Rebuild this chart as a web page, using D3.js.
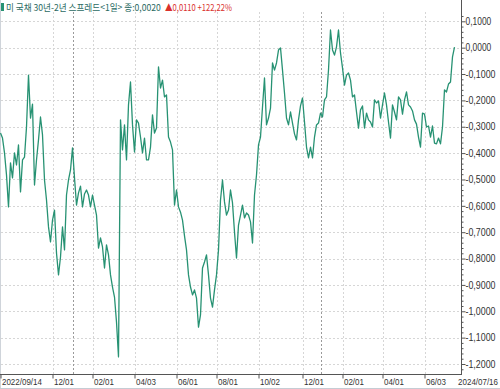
<!DOCTYPE html>
<html><head><meta charset="utf-8">
<script src="https://cdn.jsdelivr.net/npm/d3@7"></script>
<style>body{margin:0;background:#fff;} svg{display:block;}</style>
</head><body><svg id="chart" width="500" height="389"></svg>
<script>
const seriesName = "미 국채 30년-2년 스프레드<1일>";
const closeLabel = "종:0,0020";
const changeLabel = "▲0,0110";
const pctLabel = "+122,22%";
const spreadValues = [
-0.324,-0.343,-0.399,-0.483,-0.604,-0.437,-0.494,-0.399,-0.445,-0.369,
-0.547,-0.426,-0.415,-0.301,-0.104,-0.267,-0.214,-0.521,-0.426,-0.350,
-0.263,-0.331,-0.502,-0.578,-0.680,-0.737,-0.654,-0.616,-0.779,-0.862,
-0.794,-0.680,-0.767,-0.559,-0.502,-0.464,-0.380,-0.494,-0.597,-0.551,
-0.525,-0.604,-0.555,-0.540,-0.559,-0.604,-0.559,-0.597,-0.635,-0.760,
-0.722,-0.756,-0.836,-0.748,-0.786,-0.862,-0.908,-0.946,-1.041,-1.173,
-0.274,-0.388,-0.293,-0.426,-0.217,-0.130,-0.293,-0.396,-0.274,-0.286,
-0.339,-0.399,-0.343,-0.426,-0.426,-0.377,-0.255,-0.324,-0.305,-0.073,
-0.153,-0.123,-0.187,-0.179,-0.339,-0.358,-0.388,-0.597,-0.540,-0.604,
-0.624,-0.654,-0.714,-0.767,-0.862,-0.908,-0.938,-0.919,-0.950,-1.060,
-1.014,-0.836,-0.813,-0.786,-0.862,-0.950,-0.984,-0.919,-0.862,-0.767,
-0.578,-0.502,-0.585,-0.635,-0.616,-0.540,-0.589,-0.699,-0.798,-0.673,
-0.635,-0.597,-0.646,-0.627,-0.635,-0.661,-0.741,-0.559,-0.483,-0.369,
-0.339,-0.225,-0.115,-0.293,-0.267,-0.229,-0.058,-0.085,-0.058,-0.009,
-0.001,-0.085,-0.172,-0.267,-0.293,-0.244,-0.286,-0.327,-0.350,-0.274,
-0.221,-0.191,-0.282,-0.377,-0.418,-0.377,-0.418,-0.339,-0.293,-0.286,
-0.248,-0.263,-0.198,-0.187,-0.085,0.067,-0.009,-0.028,0.003,0.067,
-0.020,-0.077,-0.142,-0.104,-0.096,-0.123,-0.187,-0.179,-0.244,-0.305,
-0.236,-0.221,-0.305,-0.248,-0.274,-0.282,-0.301,-0.198,-0.210,-0.202,
-0.267,-0.217,-0.172,-0.217,-0.282,-0.343,-0.217,-0.244,-0.274,-0.187,
-0.198,-0.252,-0.198,-0.168,-0.217,-0.225,-0.240,-0.274,-0.290,-0.339,
-0.377,-0.248,-0.252,-0.301,-0.297,-0.339,-0.297,-0.362,-0.365,-0.343,
-0.365,-0.301,-0.160,-0.168,-0.138,-0.130,-0.035,0.002
];
const xTickLabels = ["2022/09/14","12/01","02/01","04/03","06/01","08/01","10/02","12/01","02/01","04/01","06/03"];
const xTickIndex = [0,26,46,67,88,108,129,151,171,191,212];
const yearBreakIndex = [36,160];
const lastDateLabel = "2024/07/16";
const yTicks = [0.1,0,-0.1,-0.2,-0.3,-0.4,-0.5,-0.6,-0.7,-0.8,-0.9,-1.0,-1.1,-1.2];

const W = 500, H = 389;
const axisX = 461, axisY = 374;
const lineColor = "#279273";
const gridColor = "#d6d6d6";
const axisColor = "#555";
const font = "'Liberation Sans','DejaVu Sans',Arial,sans-serif";

const svg = d3.select("#chart");
const loc = d3.formatLocale({decimal:",", thousands:".", grouping:[3], currency:["",""], minus:"-"});
const fmt = loc.format(".4f");

const x = d3.scaleLinear().domain([0, spreadValues.length - 1]).range([0.5, 454.5]);
const y = d3.scaleLinear().domain([0.1, -1.2]).range([21.3, 364]);

// horizontally condense a text so its width equals the target, keeping glyph height
function squeeze(sel, widthFn) {
  sel.each(function() {
    const target = widthFn(this.textContent);
    const w = this.getComputedTextLength();
    if (!(w > 0)) return;
    const s = Math.min(1, target / w);
    const x0 = +this.getAttribute("x") || 0;
    this.setAttribute("x", 0);
    this.setAttribute("transform", `translate(${x0},0) scale(${s.toFixed(3)},1)`);
  });
}
const charW = 4.0;

// left & bottom borders
svg.append("line").attr("x1",0.5).attr("x2",0.5).attr("y1",0).attr("y2",H)
  .attr("stroke","#cfd4da");
svg.append("line").attr("x1",0).attr("x2",W).attr("y1",388.5).attr("y2",388.5)
  .attr("stroke","#c5ccd4");

// horizontal grid
svg.append("g").selectAll("line").data(yTicks).join("line")
  .attr("x1",1).attr("x2",axisX)
  .attr("y1",d=>Math.round(y(d))+0.5).attr("y2",d=>Math.round(y(d))+0.5)
  .attr("stroke",gridColor).attr("stroke-dasharray","2,2");

// vertical grid
svg.append("g").selectAll("line").data(xTickIndex.slice(1)).join("line")
  .attr("x1",d=>Math.round(x(d))+0.5).attr("x2",d=>Math.round(x(d))+0.5)
  .attr("y1",12).attr("y2",axisY)
  .attr("stroke",gridColor).attr("stroke-dasharray","2,2");

// year breaks
svg.append("g").selectAll("line").data(yearBreakIndex).join("line")
  .attr("x1",d=>Math.round(x(d))+0.5).attr("x2",d=>Math.round(x(d))+0.5)
  .attr("y1",12).attr("y2",axisY)
  .attr("stroke","#9a9a9a").attr("stroke-dasharray","2,2");

// series line
svg.append("path").datum(spreadValues)
  .attr("fill","none").attr("stroke",lineColor).attr("stroke-width",1.3)
  .attr("stroke-linejoin","round")
  .attr("d", d3.line().x((d,i)=>x(i)).y(d=>y(d)));

// right axis
const minorTicks = d3.range(12, -124, -2).map(v=>v/100).filter(v=>Math.abs(Math.round(v*100))%10!==0);
const minorAxis = svg.append("g").attr("transform",`translate(${axisX+0.5},0)`)
  .call(d3.axisRight(y).tickValues(minorTicks).tickSize(2).tickFormat(""));
minorAxis.select(".domain").remove();
minorAxis.selectAll("line").attr("stroke",axisColor);

const yAxis = svg.append("g").attr("transform",`translate(${axisX+0.5},0)`)
  .call(d3.axisRight(y).tickValues(yTicks).tickSize(4).tickFormat(fmt));
yAxis.select(".domain").remove();
yAxis.selectAll("line").attr("stroke",axisColor);
yAxis.selectAll("text").attr("x",4).attr("fill","#333")
  .style("font-family",font).style("font-size","10px");
squeeze(yAxis.selectAll("text"), t => t.length * 4.3);

svg.append("line").attr("x1",axisX+0.5).attr("x2",axisX+0.5).attr("y1",0).attr("y2",axisY)
  .attr("stroke",axisColor);

// bottom axis
const xAxis = svg.append("g").attr("transform",`translate(0,${axisY+0.5})`)
  .call(d3.axisBottom(x).tickValues(xTickIndex).tickSize(4).tickFormat((d,i)=>xTickLabels[i]));
xAxis.select(".domain").remove();
xAxis.selectAll("line").attr("stroke",axisColor);
xAxis.selectAll("text").attr("text-anchor","start").attr("x",1).attr("y",10.5).attr("dy",0)
  .attr("fill","#333").style("font-family",font).style("font-size","9.5px");
squeeze(xAxis.selectAll("text"), t => t.length * charW);
svg.append("line").attr("x1",0).attr("x2",axisX+1).attr("y1",axisY+0.5).attr("y2",axisY+0.5)
  .attr("stroke",axisColor);
const lastLbl = svg.append("text").attr("x",W - 2).attr("y",axisY+11).attr("text-anchor","end")
  .attr("fill","#333").style("font-family",font).style("font-size","9.5px").text(lastDateLabel);
squeeze(lastLbl, t => t.length * charW);

// header
svg.append("rect").attr("x",1).attr("y",3).attr("width",3).attr("height",8).attr("fill",lineColor);
const hdrFont = "'Noto Sans CJK KR','Noto Sans',sans-serif";
const hdr1 = svg.append("text").attr("x",6).attr("y",11).attr("fill","#2a6a62")
  .style("font-family",hdrFont).style("font-size","9.5px").text(seriesName + " " + closeLabel);
squeeze(hdr1, () => 155);
const hdr2 = svg.append("text").attr("x",165).attr("y",11).attr("fill","#d9302c")
  .style("font-family",hdrFont).style("font-size","9.5px").text(changeLabel + " " + pctLabel);
squeeze(hdr2, () => 67);
</script>
</body></html>
